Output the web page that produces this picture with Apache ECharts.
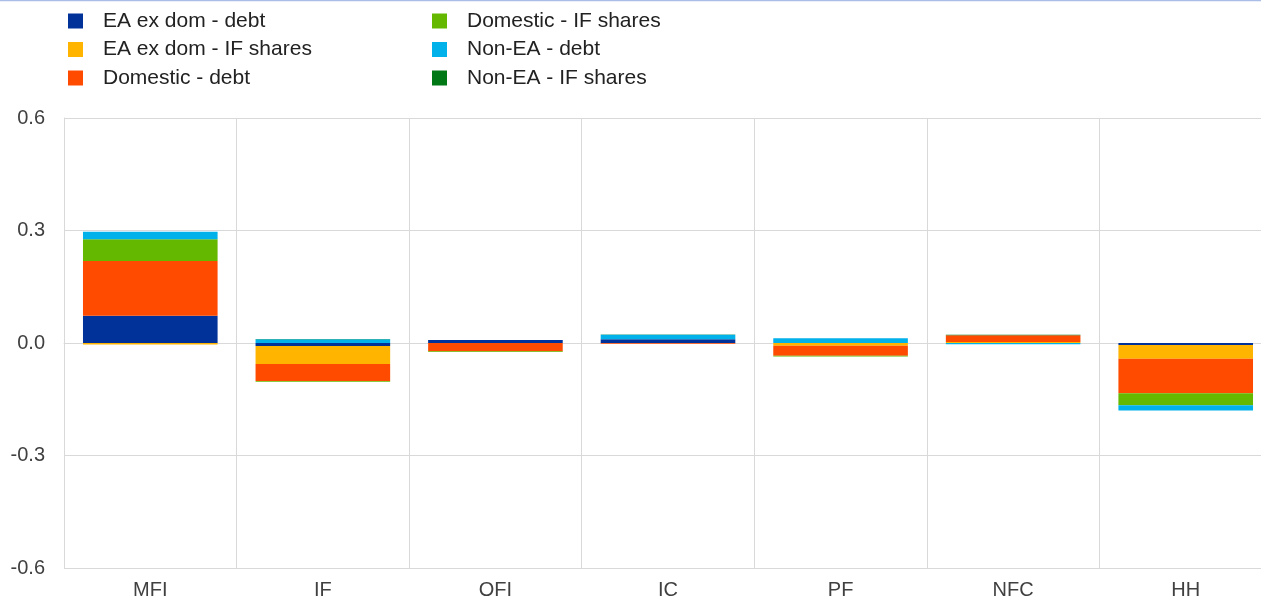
<!DOCTYPE html>
<html>
<head>
<meta charset="utf-8">
<script src="https://cdn.jsdelivr.net/npm/echarts@6/dist/echarts.min.js"></script>
<style>html,body{margin:0;padding:0;background:#fff;overflow:hidden;}#c{width:1276px;height:600px;}</style>
</head>
<body>
<div id="c"></div>
<script>
const categories = ['MFI', 'IF', 'OFI', 'IC', 'PF', 'NFC', 'HH'];
const eaExDomDebt     = [0.073, -0.008, 0.008, 0.010, 0.000, 0.000, -0.005];
const eaExDomIfShares = [-0.004, -0.048, 0.000, 0.000, -0.007, 0.003, -0.037];
const domesticDebt    = [0.146, -0.045, -0.022, -0.002, -0.027, 0.018, -0.092];
const domesticIfShares= [0.058, -0.002, -0.002, 0.000, -0.002, 0.000, -0.032];
const nonEaDebt       = [0.020, 0.010, 0.000, 0.012, 0.013, -0.003, -0.014];
const nonEaIfShares   = [0.000, 0.001, 0.000, 0.001, 0.000, 0.001, 0.000];
const yTicks = [-0.6, -0.3, 0.0, 0.3, 0.6];

const seriesDefs = [
  ['EA ex dom - debt', eaExDomDebt, '#003299'],
  ['EA ex dom - IF shares', eaExDomIfShares, '#ffb400'],
  ['Domestic - debt', domesticDebt, '#ff4b00'],
  ['Domestic - IF shares', domesticIfShares, '#65b800'],
  ['Non-EA - debt', nonEaDebt, '#00b1ea'],
  ['Non-EA - IF shares', nonEaIfShares, '#007816']
];

const font = 'Liberation Sans, Arial, sans-serif';
const chart = echarts.init(document.getElementById('c'), null, {renderer: 'canvas'});
const legendBase = {
  orient: 'vertical', top: 10.5, itemWidth: 15, itemHeight: 15, itemGap: 7.5,
  icon: 'rect', selectedMode: false, padding: 0,
  textStyle: {fontFamily: font, fontSize: 21, lineHeight: 21, color: '#222', padding: [0, 0, 0, 15]}
};
chart.setOption({
  animation: false,
  color: seriesDefs.map(s => s[2]),
  graphic: [{type: 'line', shape: {x1: 0, y1: 0.5, x2: 1261, y2: 0.5}, style: {stroke: '#a9bde6', lineWidth: 1.5}}],
  legend: [
    Object.assign({}, legendBase, {left: 68, data: seriesDefs.slice(0, 3).map(s => s[0])}),
    Object.assign({}, legendBase, {left: 432, data: seriesDefs.slice(3).map(s => s[0])})
  ],
  grid: {left: 64, top: 118, width: 1208, height: 450, containLabel: false},
  xAxis: {
    type: 'category', data: categories,
    axisLine: {show: true, lineStyle: {color: '#d9d9d9'}},
    axisTick: {show: false},
    axisLabel: {fontFamily: font, fontSize: 20, color: '#404040', margin: 12},
    splitLine: {show: true, lineStyle: {color: '#d9d9d9'}}
  },
  yAxis: {
    type: 'value', min: yTicks[0], max: yTicks[yTicks.length - 1], interval: 0.3,
    axisLine: {show: true, lineStyle: {color: '#d9d9d9'}},
    axisTick: {show: false},
    axisLabel: {fontFamily: font, fontSize: 20, color: '#404040', margin: 19, formatter: v => v.toFixed(1)},
    splitLine: {show: true, lineStyle: {color: '#d9d9d9'}}
  },
  series: seriesDefs.map(s => ({
    name: s[0], type: 'bar', stack: 'total', data: s[1], barCategoryGap: '22%',
    itemStyle: {color: s[2]}
  }))
});
</script>
</body>
</html>
